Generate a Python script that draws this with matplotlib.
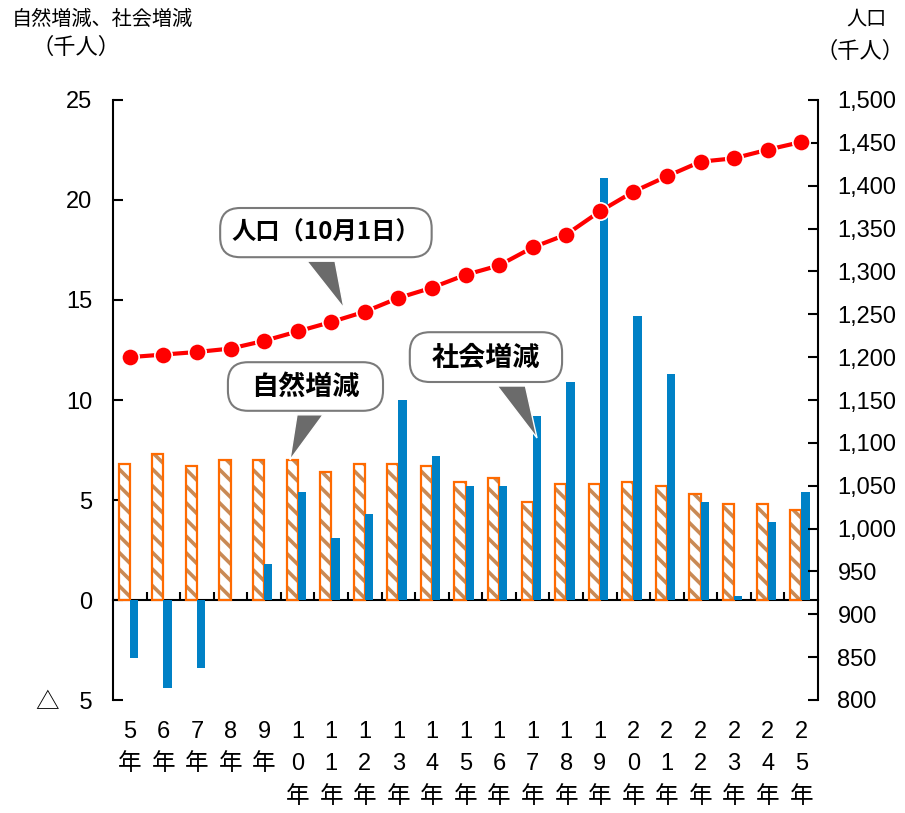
import numpy as np
import matplotlib.pyplot as plt
from matplotlib.patches import FancyBboxPatch, Polygon
from matplotlib.ticker import FuncFormatter

plt.rcParams['font.family'] = ['Liberation Sans', 'Noto Sans CJK JP']
plt.rcParams['hatch.linewidth'] = 2.6

# 自然増減・社会増減（千人）と 10月1日現在の人口（千人）
years = list(range(5, 26))
natural = [6.8, 7.3, 6.7, 7.0, 7.0, 7.0, 6.4, 6.8, 6.8, 6.7, 5.9,
           6.1, 4.9, 5.8, 5.8, 5.9, 5.7, 5.3, 4.8, 4.8, 4.5]
social = [-2.9, -4.4, -3.4, 0.0, 1.8, 5.4, 3.1, 4.3, 10.0, 7.2, 5.7,
          5.7, 9.2, 10.9, 21.1, 14.2, 11.3, 4.9, 0.2, 3.9, 5.4]
population = [1200, 1203, 1206, 1210, 1219, 1230, 1241, 1253, 1269, 1281, 1296,
              1307, 1328, 1343, 1370, 1393, 1411, 1428, 1432, 1442, 1451]

left_ticks = [-5, 0, 5, 10, 15, 20, 25]
left_labels = ['△   5', '0', '5', '10', '15', '20', '25']
year_labels = ['\n'.join(str(y)) + '\n年' for y in years]

ORANGE = '#FF6A00'
HATCH = '#C98A55'
BLUE = '#0081C6'

x = np.arange(len(years))

fig = plt.figure(figsize=(9.05, 8.13), dpi=100)
ax = fig.add_axes([113 / 905, 113 / 813, 705 / 905, 600 / 813])
ax2 = ax.twinx()

# 自然増減: hatched fill first, then the orange outline on top
ax.bar(x, natural, width=-0.33, align='edge', color='white', edgecolor=HATCH,
       linewidth=0, hatch='\\\\', zorder=2)
ax.bar(x, natural, width=-0.33, align='edge', fill=False, edgecolor=ORANGE,
       linewidth=1.6, zorder=3)
# 社会増減
ax.bar(x, social, width=0.25, align='edge', color=BLUE, linewidth=0, zorder=3)

# 人口
ax2.plot(x, population, color='#FF0000', lw=3.0, marker='o', ms=12.5,
         mfc='#FF0000', mec='white', mew=1.2, zorder=5)

ax.set_xlim(-0.5, 20.5)
ax.set_ylim(-5, 25)
ax2.set_ylim(800, 1500)

ax.set_yticks(left_ticks, left_labels)
ax2.set_yticks(range(800, 1501, 50))
ax2.yaxis.set_major_formatter(FuncFormatter(lambda v, p: f'{int(v):,}'))

for a in (ax, ax2):
    for side in ('top', 'bottom'):
        a.spines[side].set_visible(False)
    for s in a.spines.values():
        s.set_linewidth(1.5)
ax.spines['right'].set_visible(False)
ax2.spines['left'].set_visible(False)

# zero line with category separators
ax.spines['bottom'].set_visible(True)
ax.spines['bottom'].set_position(('data', 0))
ax.set_xticks(np.arange(0.5, 20, 1))
ax.tick_params(axis='x', direction='in', length=6, width=1.5, labelbottom=False)

ax.tick_params(axis='y', direction='in', length=7, width=1.5, labelsize=17, pad=15)
ax2.tick_params(axis='y', direction='in', length=7, width=1.5, labelsize=17, pad=14)

# year labels stacked vertically below the plot
sec = ax.secondary_xaxis('bottom')
sec.spines['bottom'].set_visible(False)
sec.set_xticks(x, year_labels)
sec.tick_params(length=0, pad=15, labelsize=17)
for lbl in sec.get_xticklabels():
    lbl.set_linespacing(1.62)

# axis titles
fig.text(12 / 905, 1 - 19 / 813, '自然増減、社会増減', fontsize=14.5, ha='left', va='center')
fig.text(76 / 905, 1 - 48 / 813, '（千人）', fontsize=16, ha='center', va='center')
fig.text(866 / 905, 1 - 19 / 813, '人口', fontsize=14.5, ha='center', va='center')
fig.text(860 / 905, 1 - 52 / 813, '（千人）', fontsize=16, ha='center', va='center')

inv = fig.dpi_scale_trans.inverted()


def callout(text, box, base, tip, tip_ax, fs):
    x0, y0 = inv.transform(ax.transAxes.transform((box[0], box[1])))
    x1, y1 = inv.transform(ax.transAxes.transform((box[2], box[3])))
    bl = inv.transform(ax.transAxes.transform((base[0], 0)))[0]
    br = inv.transform(ax.transAxes.transform((base[1], 0)))[0]
    tx, ty = inv.transform(tip_ax.transData.transform(tip))
    fig.add_artist(Polygon([(bl, y0 - 0.04), (br, y0 - 0.04), (tx, ty)],
                           closed=True, facecolor='#6B6B6B', edgecolor='white',
                           linewidth=1.0, transform=fig.dpi_scale_trans, zorder=6))
    fig.add_artist(FancyBboxPatch((x0, y0), x1 - x0, y1 - y0,
                                  boxstyle='round,pad=0,rounding_size=0.2',
                                  facecolor='white', edgecolor='#7A7A7A', linewidth=1.5,
                                  transform=fig.dpi_scale_trans, zorder=7))
    fig.text((x0 + x1) / 2, (y0 + y1) / 2, text, transform=fig.dpi_scale_trans,
             ha='center', va='center', fontsize=fs, fontweight='bold',
             family=['Noto Sans CJK JP'], zorder=8)


callout('人口（10月1日）', (0.152, 0.738, 0.452, 0.820), (0.275, 0.315), (6.38, 1257), ax2, 17.5)
callout('自然増減', (0.163, 0.482, 0.383, 0.563), (0.261, 0.298), (4.77, 7.0), ax, 19.5)
callout('社会増減', (0.421, 0.530, 0.637, 0.613), (0.545, 0.585), (12.13, 8.1), ax, 19.5)

fig.savefig('out.png', dpi=100)
